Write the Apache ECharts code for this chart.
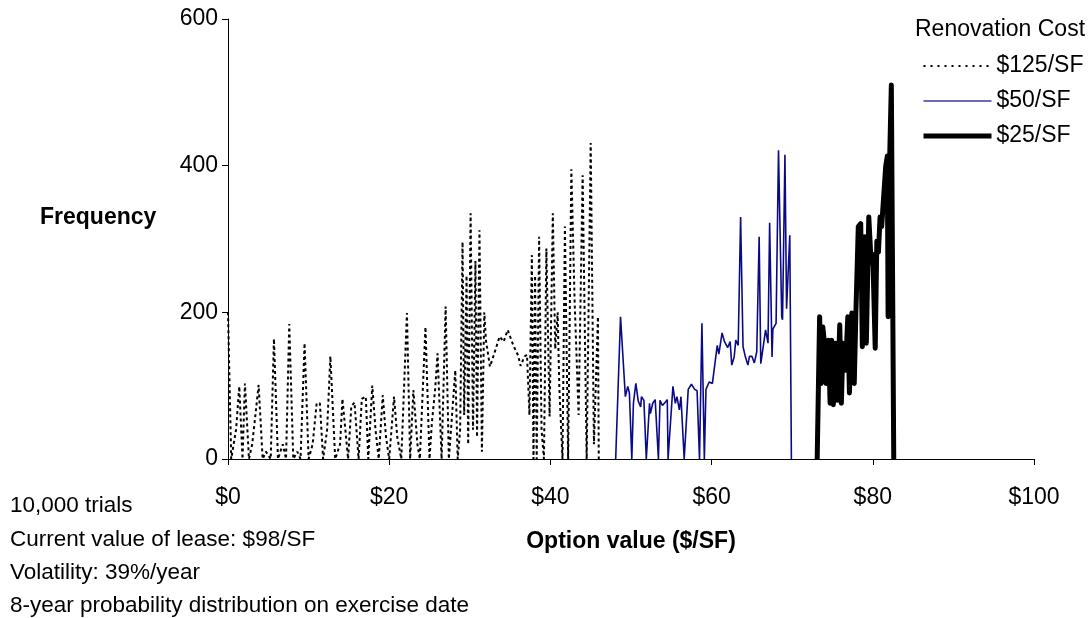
<!DOCTYPE html>
<html>
<head>
<meta charset="utf-8">
<script src="https://cdn.jsdelivr.net/npm/echarts@6/dist/echarts.min.js"></script>
<style>
  html, body { margin: 0; padding: 0; background: #ffffff; }
  #chart { width: 1090px; height: 618px; }
</style>
</head>
<body>
<div id="chart"></div>
<script>
// Option value distributions (frequency of 10,000 trials) for three renovation costs
const cost125X = [0, 0.4, 1.0, 1.4, 1.8, 2.1, 2.6, 3.0, 3.4, 3.8, 4.3, 4.7, 5.3, 5.7, 6.2, 6.8, 7.2, 7.6, 8.1, 8.6, 9.0, 9.5, 10.0, 10.5, 11.0, 11.4, 11.8, 12.3, 12.7, 13.3, 13.9, 14.2, 14.9, 15.3, 15.7, 16.2, 16.6, 17.1, 17.4, 17.9, 18.3, 18.7, 19.2, 19.6, 20.0, 20.6, 21.0, 21.5, 22.2, 22.6, 23.0, 23.5, 23.8, 24.5, 25.0, 25.3, 25.7, 26.0, 26.5, 27.0, 27.4, 27.8, 28.2, 28.5, 28.8, 29.1, 29.3, 29.6, 29.8, 30.1, 30.4, 30.7, 30.9, 31.2, 31.5, 31.8, 32.0, 32.5, 33.1, 33.7, 34.2, 34.7, 35.4, 36.0, 36.3, 36.8, 37.1, 37.4, 37.7, 37.9, 38.1, 38.3, 38.6, 38.9, 39.2, 39.5, 39.9, 40.3, 40.6, 40.9, 41.1, 41.5, 41.8, 42.2, 42.6, 43.0, 43.5, 44.0, 44.5, 45.0, 45.4, 45.9, 46.0];
const cost125Y = [200, 0, 40, 99, 0, 103, 0, 20, 60, 101, 0, 10, 0, 164, 0, 20, 0, 184, 0, 10, 0, 158, 0, 20, 76, 76, 0, 40, 140, 0, 20, 82, 0, 72, 77, 0, 82, 85, 0, 100, 40, 0, 87, 30, 0, 85, 30, 0, 199, 0, 94, 20, 0, 180, 0, 50, 95, 144, 0, 208, 0, 60, 121, 0, 40, 296, 60, 250, 20, 335, 40, 270, 30, 312, 10, 200, 162, 126, 146, 167, 160, 176, 155, 141, 127, 140, 142, 60, 278, 0, 250, 0, 303, 40, 0, 287, 58, 335, 150, 200, 100, 0, 317, 0, 395, 217, 60, 387, 0, 431, 20, 194, 0];

const cost50X = [48.1, 48.7, 49.3, 49.6, 49.8, 50.1, 50.3, 50.6, 50.9, 51.2, 51.3, 51.6, 51.9, 52.3, 52.4, 52.7, 53.0, 53.4, 53.6, 53.9, 54.3, 54.5, 54.6, 55.2, 55.5, 55.7, 56.0, 56.2, 56.6, 57.1, 57.5, 57.9, 58.2, 58.5, 58.8, 59.1, 59.3, 59.7, 60.1, 60.7, 60.9, 61.3, 61.6, 61.8, 62.0, 62.3, 62.5, 62.8, 63.0, 63.3, 63.6, 63.9, 64.2, 64.5, 64.7, 65.0, 65.3, 65.6, 65.9, 66.1, 66.4, 66.7, 67.0, 67.2, 67.5, 67.6, 68.0, 68.3, 68.7, 68.8, 69.1, 69.3, 69.7, 69.9];
const cost50Y = [0, 194, 85, 99, 90, 0, 76, 103, 79, 71, 85, 80, 0, 76, 62, 76, 81, 0, 80, 73, 78, 81, 0, 99, 76, 85, 67, 85, 0, 95, 102, 95, 93, 0, 185, 0, 95, 105, 103, 155, 143, 172, 160, 160, 152, 160, 128, 139, 162, 155, 330, 153, 139, 128, 140, 140, 131, 146, 303, 130, 153, 176, 158, 322, 139, 177, 185, 421, 194, 190, 415, 205, 305, 0];

const cost25X = [73.1, 73.4, 73.6, 73.8, 74.0, 74.2, 74.5, 74.7, 74.9, 75.1, 75.4, 75.6, 75.9, 76.1, 76.3, 76.6, 76.9, 77.1, 77.4, 77.7, 77.9, 78.2, 78.5, 78.7, 79.0, 79.2, 79.5, 79.8, 80.0, 80.3, 80.5, 80.7, 80.9, 81.1, 81.3, 81.6, 81.8, 81.9, 82.1, 82.3, 82.6];
const cost25Y = [0, 194, 103, 180, 158, 103, 162, 76, 162, 74, 158, 80, 183, 76, 158, 121, 194, 90, 199, 103, 199, 317, 321, 153, 303, 158, 330, 267, 279, 151, 297, 282, 330, 317, 317, 399, 413, 194, 413, 510, 0];

const seriesNames = ['$125/SF', '$50/SF', '$25/SF'];
const xTicks = { min: 0, max: 100, step: 20 };
const yTicks = { min: 0, max: 600, step: 200 };
const notes = [
  '10,000 trials',
  'Current value of lease: $98/SF',
  'Volatility: 39%/year',
  '8-year probability distribution on exercise date'
];

const pairs = (xs, ys) => xs.map((x, i) => [x, ys[i]]);
const FONT = '"Liberation Sans", Arial, sans-serif';

// line looks shared by each series and its legend sample
const dottedStyle = { color: '#000', width: 2, type: [3, 3] };
const thinStyle = { color: '#0a0a86', width: 1.6 };
const thickStyle = { color: '#000', width: 5, join: 'round', cap: 'butt' };

const chart = echarts.init(document.getElementById('chart'), null, { renderer: 'canvas' });

chart.setOption({
  backgroundColor: '#ffffff',
  animation: false,
  grid: { left: 228, right: 56, top: 19, bottom: 159 },
  xAxis: {
    type: 'value',
    min: xTicks.min, max: xTicks.max, interval: xTicks.step,
    splitLine: { show: false },
    axisLine: { onZero: false, lineStyle: { color: '#000', width: 1 } },
    axisTick: { show: true, inside: false, length: 6, lineStyle: { color: '#000' } },
    axisLabel: {
      margin: 27, color: '#000', fontSize: 23, fontFamily: FONT,
      formatter: v => '$' + v
    }
  },
  yAxis: {
    type: 'value',
    min: yTicks.min, max: yTicks.max, interval: yTicks.step,
    splitLine: { show: false },
    axisLine: { show: true, lineStyle: { color: '#000', width: 1 } },
    axisTick: { show: true, inside: false, length: 6, lineStyle: { color: '#000' } },
    axisLabel: { margin: 10, color: '#000', fontSize: 23, fontFamily: FONT }
  },
  legend: {
    data: [
      { name: seriesNames[0], itemStyle: { opacity: 0 }, lineStyle: { color: '#000', width: 2, type: [2, 5] } },
      { name: seriesNames[1], itemStyle: { opacity: 0 }, lineStyle: { color: '#3a3aa0', width: 1.6 } },
      { name: seriesNames[2], itemStyle: { opacity: 0 }, lineStyle: { color: '#000', width: 5 } }
    ],
    orient: 'vertical',
    left: 916,
    top: 49,
    itemWidth: 68,
    itemHeight: 14,
    itemGap: 11,
    itemStyle: { opacity: 0 },
    textStyle: { color: '#000', fontSize: 23, fontFamily: FONT, lineHeight: 24 },
    selectedMode: false
  },
  series: [
    {
      name: seriesNames[0], type: 'line', showSymbol: false, symbol: 'none',
      data: pairs(cost125X, cost125Y),
      lineStyle: dottedStyle, itemStyle: { color: '#000' }
    },
    {
      name: seriesNames[1], type: 'line', showSymbol: false, symbol: 'none',
      data: pairs(cost50X, cost50Y),
      lineStyle: thinStyle, itemStyle: { color: thinStyle.color }
    },
    {
      name: seriesNames[2], type: 'line', showSymbol: false, symbol: 'none',
      data: pairs(cost25X, cost25Y),
      lineStyle: thickStyle, itemStyle: { color: '#000' }
    }
  ],
  graphic: [
    { type: 'text', left: 915, top: 18, style: { text: 'Renovation Cost', font: '23px ' + FONT, fill: '#000' } },
    { type: 'text', left: 40, top: 206, style: { text: 'Frequency', font: 'bold 23px ' + FONT, fill: '#000' } },
    { type: 'text', x: 631, y: 542, style: { text: 'Option value ($/SF)', font: 'bold 23px ' + FONT, fill: '#000', align: 'center', verticalAlign: 'middle' } }
  ].concat(notes.map((t, i) => ({
    type: 'text', x: 10, y: 506 + i * 33.4,
    style: { text: t, font: '22.5px ' + FONT, fill: '#000', verticalAlign: 'middle' }
  })))
});
</script>
</body>
</html>
